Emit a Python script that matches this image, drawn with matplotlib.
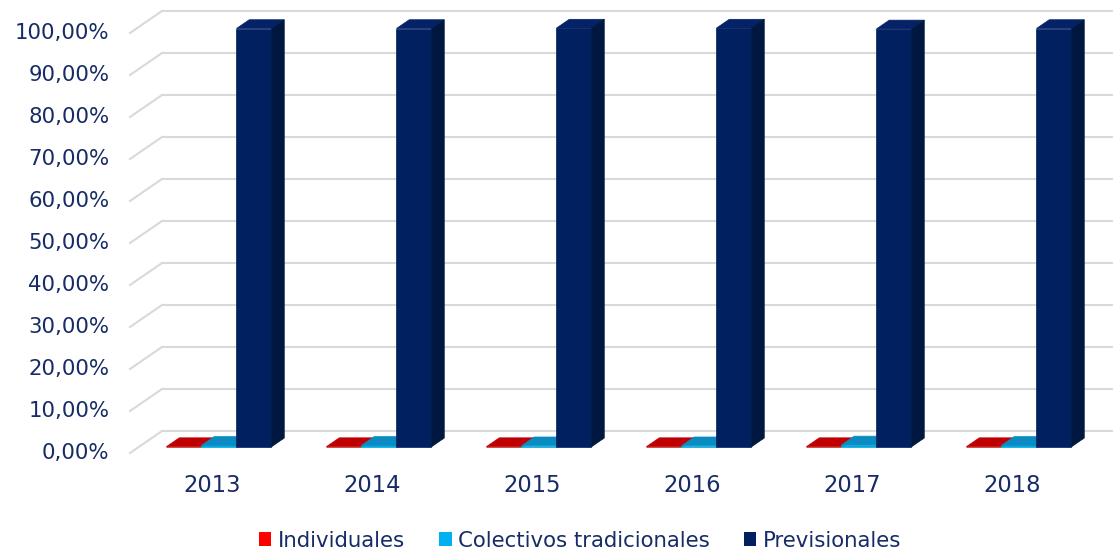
import numpy as np
import matplotlib.pyplot as plt
from matplotlib.patches import Polygon, Patch

# %% data
years = ['2013', '2014', '2015', '2016', '2017', '2018']
series_names = ['Individuales', 'Colectivos tradicionales', 'Previsionales']
individuales = [0.05, 0.05, 0.05, 0.05, 0.05, 0.05]
colectivos = [0.35, 0.35, 0.25, 0.25, 0.45, 0.35]
previsionales = [99.6, 99.6, 99.7, 99.7, 99.5, 99.6]
yticks = list(range(0, 101, 10))

# front / top / side shades, plus legend colour
face_colors = [('#c00000', '#c00000', '#800000'),
               ('#00a8e0', '#0a8cc2', '#006f99'),
               ('#002060', '#062266', '#00173f')]
legend_colors = ['#ff0000', '#00b0f0', '#002060']
text_color = '#172c66'
grid_color = '#d9d9d9'

# %% figure with an oblique "3d" frame
W, H = 1113, 554
fig = plt.figure(figsize=(W / 100, H / 100), dpi=100)
ax = fig.add_axes([0, 0, 1, 1])
x0_px, slot_px = 130, 160      # left of front floor, width of one category
y0_px, pct_px = 453, 4.2       # front 0% line, pixels per percent
ax.set_xlim(-x0_px / slot_px, (W - x0_px) / slot_px)
ax.set_ylim(-(H - y0_px) / pct_px, y0_px / pct_px)
ax.axis('off')

DX = 32 / slot_px   # depth shift of the back wall
DY = 22 / pct_px
xmax = ax.get_xlim()[1]

# gridlines: side wall diagonal + back wall
for v in yticks:
    ax.plot([0, DX], [v, v + DY], color=grid_color, lw=1.5, zorder=1)
    ax.plot([DX, xmax], [v + DY, v + DY], color=grid_color, lw=1.5, zorder=1)
    ax.text(-0.13, v, '{:.2f}%'.format(v).replace('.', ','), ha='right', va='center',
            fontsize=15.3, color=text_color)

# %% bars
w = 35 / slot_px
f0, fd = 0.28, 0.4                 # depth position and depth of the bars
ox, oy = f0 * DX, f0 * DY
bx, by = fd * DX, fd * DY


def draw_bar(xl, h, cols):
    front, top, side = cols
    xa, xb = xl + ox, xl + w + ox
    faces = [([(xa, oy), (xb, oy), (xb, h + oy), (xa, h + oy)], front),
             ([(xa, h + oy), (xb, h + oy), (xb + bx, h + oy + by), (xa + bx, h + oy + by)], top),
             ([(xb, oy), (xb + bx, oy + by), (xb + bx, h + oy + by), (xb, h + oy)], side)]
    for pts, c in faces:
        ax.add_patch(Polygon(pts, closed=True, facecolor=c, edgecolor=c, lw=0.5, zorder=3))


data = [individuales, colectivos, previsionales]
for i, yr in enumerate(years):
    center = i + 0.5
    for s in range(3):
        xl = center - 1.5 * w + s * w
        draw_bar(xl, data[s][i], face_colors[s])
    ax.text(center + 0.013, -7.7, yr, ha='center', va='center', fontsize=16.3, color=text_color)

# %% legend
handles = [Patch(facecolor=c, edgecolor='none', label=n) for c, n in zip(legend_colors, series_names)]
fig.legend(handles=handles, loc='center', bbox_to_anchor=(0.521, 0.024), ncol=3, frameon=False,
           fontsize=15.3, labelcolor=text_color, handlelength=0.6, handleheight=0.6,
           handletextpad=0.3, columnspacing=1.6)

fig.savefig('out.png', dpi=100)
